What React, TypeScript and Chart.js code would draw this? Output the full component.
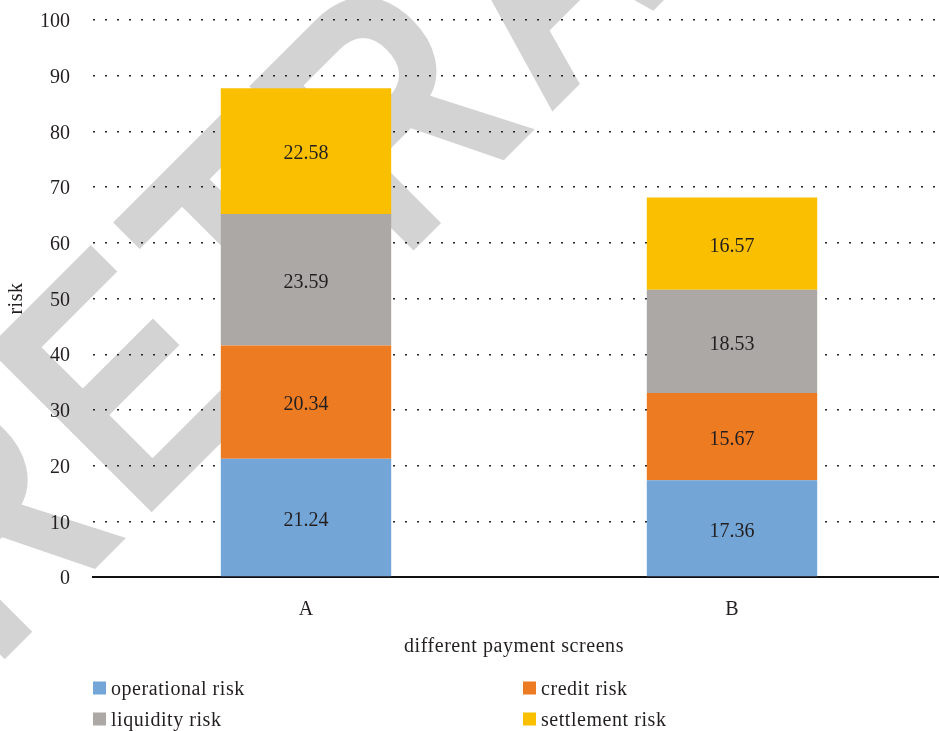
import React, { useEffect, useRef } from 'react';
import { Chart, registerables } from 'chart.js';

Chart.register(...registerables);

// ---- data ----
const categories = ['A', 'B'];
const operationalRisk = [21.24, 17.36];
const creditRisk = [20.34, 15.67];
const liquidityRisk = [23.59, 18.53];
const settlementRisk = [22.58, 16.57];
const seriesNames = ['operational risk', 'credit risk', 'liquidity risk', 'settlement risk'];
const seriesColors = ['#73A5D6', '#ED7B22', '#ACA8A6', '#FAC000'];
const yMin = 0;
const yMax = 100;
const yStep = 10;
const xTitle = 'different payment screens';
const yTitle = 'risk';
const watermarkText = 'RETRACTED';

const FONT_FAMILY = '"Liberation Serif", "Times New Roman", serif';
const TEXT_COLOR = '#231f20';
const FONT_SIZE = 20;

const watermarkPlugin = {
  id: 'watermark',
  beforeDraw(chart: any) {
    const ctx = chart.ctx;
    ctx.save();
    ctx.translate(-8, 672);
    ctx.rotate(-Math.PI / 4);
    ctx.scale(1, 1.25);
    ctx.font = 'bold 270px "Liberation Sans", Arial, sans-serif';
    (ctx as any).letterSpacing = '12.7px';
    ctx.fillStyle = '#d3d3d3';
    ctx.textAlign = 'left';
    ctx.textBaseline = 'alphabetic';
    ctx.fillText(watermarkText, 0, 0);
    ctx.restore();
  },
};

const valueLabelPlugin = {
  id: 'valueLabels',
  afterDatasetsDraw(chart: any) {
    const ctx = chart.ctx;
    ctx.save();
    ctx.font = `${FONT_SIZE}px ${FONT_FAMILY}`;
    ctx.fillStyle = TEXT_COLOR;
    ctx.textAlign = 'center';
    ctx.textBaseline = 'middle';
    chart.data.datasets.forEach((ds: any, i: number) => {
      const meta = chart.getDatasetMeta(i);
      meta.data.forEach((bar: any, j: number) => {
        const { x, y, base } = bar.getProps(['x', 'y', 'base'], true);
        ctx.fillText(Number(ds.data[j]).toFixed(2), x, (y + base) / 2 + 3);
      });
    });
    ctx.restore();
  },
};

const titlesAndLegendPlugin = {
  id: 'titlesLegend',
  afterDraw(chart: any) {
    const ctx = chart.ctx;
    const area = chart.chartArea;
    ctx.save();
    ctx.font = `${FONT_SIZE}px ${FONT_FAMILY}`;
    (ctx as any).letterSpacing = '0.55px';
    ctx.fillStyle = TEXT_COLOR;

    // x axis title
    ctx.textAlign = 'center';
    ctx.textBaseline = 'middle';
    ctx.fillText(xTitle, area.left + 421, 647);

    // y axis title
    ctx.save();
    ctx.translate(17, (area.top + area.bottom) / 2);
    ctx.rotate(-Math.PI / 2);
    ctx.fillText(yTitle, 0, 0);
    ctx.restore();

    // legend, two columns
    const colX = [area.left, area.left + 430];
    const rowY = [688, 719];
    ctx.textAlign = 'left';
    chart.data.datasets.forEach((ds: any, i: number) => {
      const x = colX[i % 2];
      const y = rowY[Math.floor(i / 2)];
      ctx.fillStyle = ds.backgroundColor;
      ctx.fillRect(x, y - 6.5, 13, 13);
      ctx.fillStyle = TEXT_COLOR;
      ctx.fillText(ds.label, x + 18, y + 2);
    });
    ctx.restore();
  },
};

export default function App() {
  const canvasRef = useRef<HTMLCanvasElement | null>(null);

  useEffect(() => {
    if (!canvasRef.current) return;
    const seriesValues = [operationalRisk, creditRisk, liquidityRisk, settlementRisk];
    const font = { family: FONT_FAMILY, size: FONT_SIZE };
    const chart = new Chart(canvasRef.current, {
      type: 'bar',
      data: {
        labels: categories,
        datasets: seriesValues.map((vals, i) => ({
          label: seriesNames[i],
          data: vals,
          backgroundColor: seriesColors[i],
          borderWidth: 0,
          barPercentage: 0.4,
          categoryPercentage: 1.0,
        })),
      },
      options: {
        responsive: false,
        animation: false,
        layout: { autoPadding: false, padding: { left: 0, right: 0, top: 20, bottom: 104 } },
        plugins: {
          legend: { display: false },
          tooltip: { enabled: false },
        },
        scales: {
          x: {
            stacked: true,
            grid: { display: false, drawTicks: false },
            border: { display: true, color: '#111', width: 2 },
            ticks: { font, color: TEXT_COLOR, padding: 21 },
            afterFit: (scale: any) => {
              scale.height = 50;
              scale.paddingLeft = 0;
              scale.paddingRight = 0;
            },
          },
          y: {
            stacked: true,
            min: yMin,
            max: yMax,
            ticks: { stepSize: yStep, font, color: TEXT_COLOR, padding: 23, labelOffset: 2 },
            grid: {
              color: (c: any) => (c.tick && c.tick.value === 0 ? 'rgba(0,0,0,0)' : '#222'),
              lineWidth: 1.4,
              drawTicks: false,
            },
            border: { display: false, dash: [2, 10] },
            afterFit: (scale: any) => {
              scale.width = 93;
              scale.paddingTop = 0;
              scale.paddingBottom = 0;
            },
          },
        },
      },
      plugins: [watermarkPlugin, valueLabelPlugin, titlesAndLegendPlugin],
    } as any);
    return () => chart.destroy();
  }, []);

  return (
    <div style={{ position: 'absolute', left: 0, top: 0, width: 939, height: 731, overflow: 'hidden', background: '#fff' }}>
      <canvas ref={canvasRef} width={945} height={731} style={{ display: 'block' }} />
    </div>
  );
}
